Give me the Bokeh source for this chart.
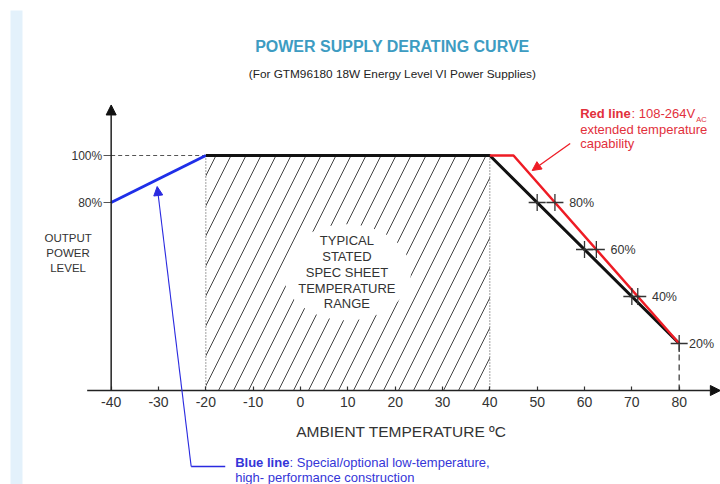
from bokeh.plotting import figure
from bokeh.models import Range1d, FixedTicker, Label, Arrow, NormalHead, BoxAnnotation
from bokeh.core.properties import value
from bokeh.embed import file_html
from bokeh.resources import INLINE

FONT = "Liberation Sans"

# ---------------- data ----------------
x_ticks = [-40, -30, -20, -10, 0, 10, 20, 30, 40, 50, 60, 70, 80]
x_tick_labels = ["-40", "-30", "-20", "-10", "0", "10", "20", "30", "40",
                 "50", "60", "70", "80"]
y_ticks = [80, 100]
y_tick_labels = ["80%", "100%"]

blue_temp = [-40, -20]
blue_power = [80, 100]

black_temp = [-20, 40, 80]
black_power = [100, 100, 20]

red_temp = [40, 45, 80]
red_power = [100, 100, 20]

black_mark_temp = [50, 60, 70, 80]
black_mark_power = [80, 60, 40, 20]
red_mark_temp = [53.75, 62.5, 71.25]
red_mark_power = [80, 60, 40]
pct_labels = ["80%", "60%", "40%", "20%"]

spec_range = [-20, 40]
spec_lines = ["TYPICAL", "STATED", "SPEC SHEET", "TEMPERATURE", "RANGE"]

title_text = "POWER SUPPLY DERATING CURVE"
subtitle_text = "(For GTM96180 18W Energy Level VI Power Supplies)"
x_label = "AMBIENT TEMPERATURE \u00baC"
y_label_lines = ["OUTPUT", "POWER", "LEVEL"]

# ---------------- figure ----------------
p = figure(width=720, height=484, output_backend="svg", toolbar_location=None,
           x_range=Range1d(-63.38, 88.73), y_range=Range1d(-40.0, 165.96),
           min_border=0, outline_line_color=None,
           background_fill_color="white", border_fill_color="white")
p.grid.visible = False
p.title.visible = False

xa = p.xaxis[0]
xa.fixed_location = 0
xa.ticker = FixedTicker(ticks=x_ticks)
xa.major_label_overrides = {t: s for t, s in zip(x_ticks, x_tick_labels)}
xa.major_tick_in = 4
xa.major_tick_out = 0
xa.minor_tick_line_color = None
xa.axis_line_color = None
xa.major_tick_line_color = "#333333"
xa.major_tick_line_width = 1.2
xa.major_label_text_font = FONT
xa.major_label_text_font_size = "14px"
xa.major_label_text_color = "#333333"
xa.major_label_standoff = 6

ya = p.yaxis[0]
ya.fixed_location = -40
ya.ticker = FixedTicker(ticks=y_ticks)
ya.major_label_overrides = {t: s for t, s in zip(y_ticks, y_tick_labels)}
ya.major_tick_in = 0
ya.major_tick_out = 8
ya.minor_tick_line_color = None
ya.axis_line_color = None
ya.major_tick_line_color = "#555555"
ya.major_label_text_font = FONT
ya.major_label_text_font_size = "12px"
ya.major_label_text_color = "#333333"
ya.major_label_standoff = 1

# light blue page stripe
p.add_layout(BoxAnnotation(left=-61.27, right=-58.73, bottom=-40, top=161.7,
                           fill_color="#e3f1fb", fill_alpha=1, line_color=None,
                           level="underlay"))

# hatched spec range
p.quad(left=[spec_range[0]], right=[spec_range[1]], bottom=[0], top=[100],
       fill_alpha=0, line_color=None, hatch_pattern="/", hatch_color="#444444",
       hatch_scale=30, hatch_weight=1)
# cleared area behind the range text
p.ellipse(x=[9.8], y=[50.3], width=[128], height=[96], width_units="screen",
          height_units="screen", fill_color="white", line_color=None)
p.text(x=[9.8] * len(spec_lines), y=[50.3 + (2 - i) * 6.7 for i in range(len(spec_lines))],
       text=spec_lines, text_font=value(FONT), text_font_size="13px",
       text_color="#333333", text_align="center", text_baseline="middle")

# guide lines
p.line([x_ticks[0], spec_range[0]], [100, 100], line_color="#555555", line_width=1, line_dash="4 3")
for xv in spec_range:
    p.line([xv, xv], [0, 100], line_color="#444444", line_width=1, line_dash="1 2")
p.line([black_temp[-1], black_temp[-1]], [0, black_power[-1]], line_color="#444444",
       line_width=1.3, line_dash="6 4")

# curves
p.line(blue_temp, blue_power, line_color="#1f2fe8", line_width=3)
p.line(black_temp, black_power, line_color="#111111", line_width=3)
p.line(red_temp, red_power, line_color="#ee1c25", line_width=2.5)

# markers
p.scatter(black_mark_temp, black_mark_power, marker="cross", size=17,
          line_color="#333333", line_width=1.3)
p.scatter(red_mark_temp, red_mark_power, marker="cross", size=17,
          line_color="#333333", line_width=1.3)

pct_x = [t + 3.0 for t in red_mark_temp] + [black_mark_temp[-1] + 2.1]
p.text(x=pct_x, y=black_mark_power, text=pct_labels, text_font=value(FONT),
       text_font_size="12.5px", text_color="#333333", text_align="left",
       text_baseline="middle")

# axes arrows
head = dict(size=10, fill_color="#111111", line_color="#111111")
p.add_layout(Arrow(x_start=-45.07, y_start=0, x_end=88.7, y_end=0,
                   end=NormalHead(**head), line_color="#222222", line_width=1.5))
p.add_layout(Arrow(x_start=-40, y_start=0, x_end=-40, y_end=121.5,
                   end=NormalHead(**head), line_color="#222222", line_width=1.5))

# titles
p.add_layout(Label(x=19.4, y=146.2, text=title_text, text_font=FONT,
                   text_font_size="16px", text_font_style="bold",
                   text_color="#3d9cc2", text_align="center", text_baseline="middle"))
p.add_layout(Label(x=19.4, y=134.5, text=subtitle_text, text_font=FONT,
                   text_font_size="11.8px", text_color="#222222",
                   text_align="center", text_baseline="middle"))

# axis labels
p.add_layout(Label(x=21.3, y=-17.45, text=x_label, text_font=FONT,
                   text_font_size="15.5px", text_color="#333333",
                   text_align="center", text_baseline="middle"))
for i, s in enumerate(y_label_lines):
    p.add_layout(Label(x=-49.1, y=64.7 - i * 6.2, text=s, text_font=FONT,
                       text_font_size="11.5px", text_color="#333333",
                       text_align="center", text_baseline="middle"))

# red annotation
RED_T = "#e2303c"
p.add_layout(Label(x=59.08, y=117.9, text="Red line", text_font=FONT,
                   text_font_size="13px", text_font_style="bold", text_color=RED_T,
                   text_align="left", text_baseline="middle"))
p.add_layout(Label(x=69.93, y=117.9, text=": 108-264V", text_font=FONT,
                   text_font_size="13px", text_color=RED_T,
                   text_align="left", text_baseline="middle"))
p.add_layout(Label(x=83.6, y=115.4, text="AC", text_font=FONT,
                   text_font_size="7.5px", text_color=RED_T,
                   text_align="left", text_baseline="middle"))
p.add_layout(Label(x=59.08, y=111.1, text="extended temperature", text_font=FONT,
                   text_font_size="13px", text_color=RED_T,
                   text_align="left", text_baseline="middle"))
p.add_layout(Label(x=59.08, y=105.1, text="capability", text_font=FONT,
                   text_font_size="13px", text_color=RED_T,
                   text_align="left", text_baseline="middle"))
p.add_layout(Arrow(x_start=56.97, y_start=105.1, x_end=48.94, y_end=93.6,
                   end=NormalHead(size=9, fill_color="#ee1c25", line_color="#ee1c25"),
                   line_color="#ee1c25", line_width=1.3))

# blue annotation
BLUE_T = "#3535d8"
p.add_layout(Arrow(x_start=-23.1, y_start=-32.3, x_end=-30.28, y_end=86.8,
                   end=NormalHead(size=9, fill_color="#2a2ae0", line_color="#2a2ae0"),
                   line_color="#2a2ae0", line_width=1.1))
p.add_layout(Arrow(x_start=-23.1, y_start=-32.3, x_end=-15.9, y_end=-32.3, end=None,
                   line_color="#2a2ae0", line_width=1.5))
p.add_layout(Label(x=-13.8, y=-30.6, text="Blue line", text_font=FONT,
                   text_font_size="13px", text_font_style="bold", text_color=BLUE_T,
                   text_align="left", text_baseline="middle"))
p.add_layout(Label(x=-2.32, y=-30.6, text=": Special/optional low-temperature,",
                   text_font=FONT, text_font_size="13px", text_color=BLUE_T,
                   text_align="left", text_baseline="middle"))
p.add_layout(Label(x=-13.8, y=-37.0, text="high- performance construction",
                   text_font=FONT, text_font_size="13px", text_color=BLUE_T,
                   text_align="left", text_baseline="middle"))

open("out.html", "w").write(file_html(p, INLINE))
